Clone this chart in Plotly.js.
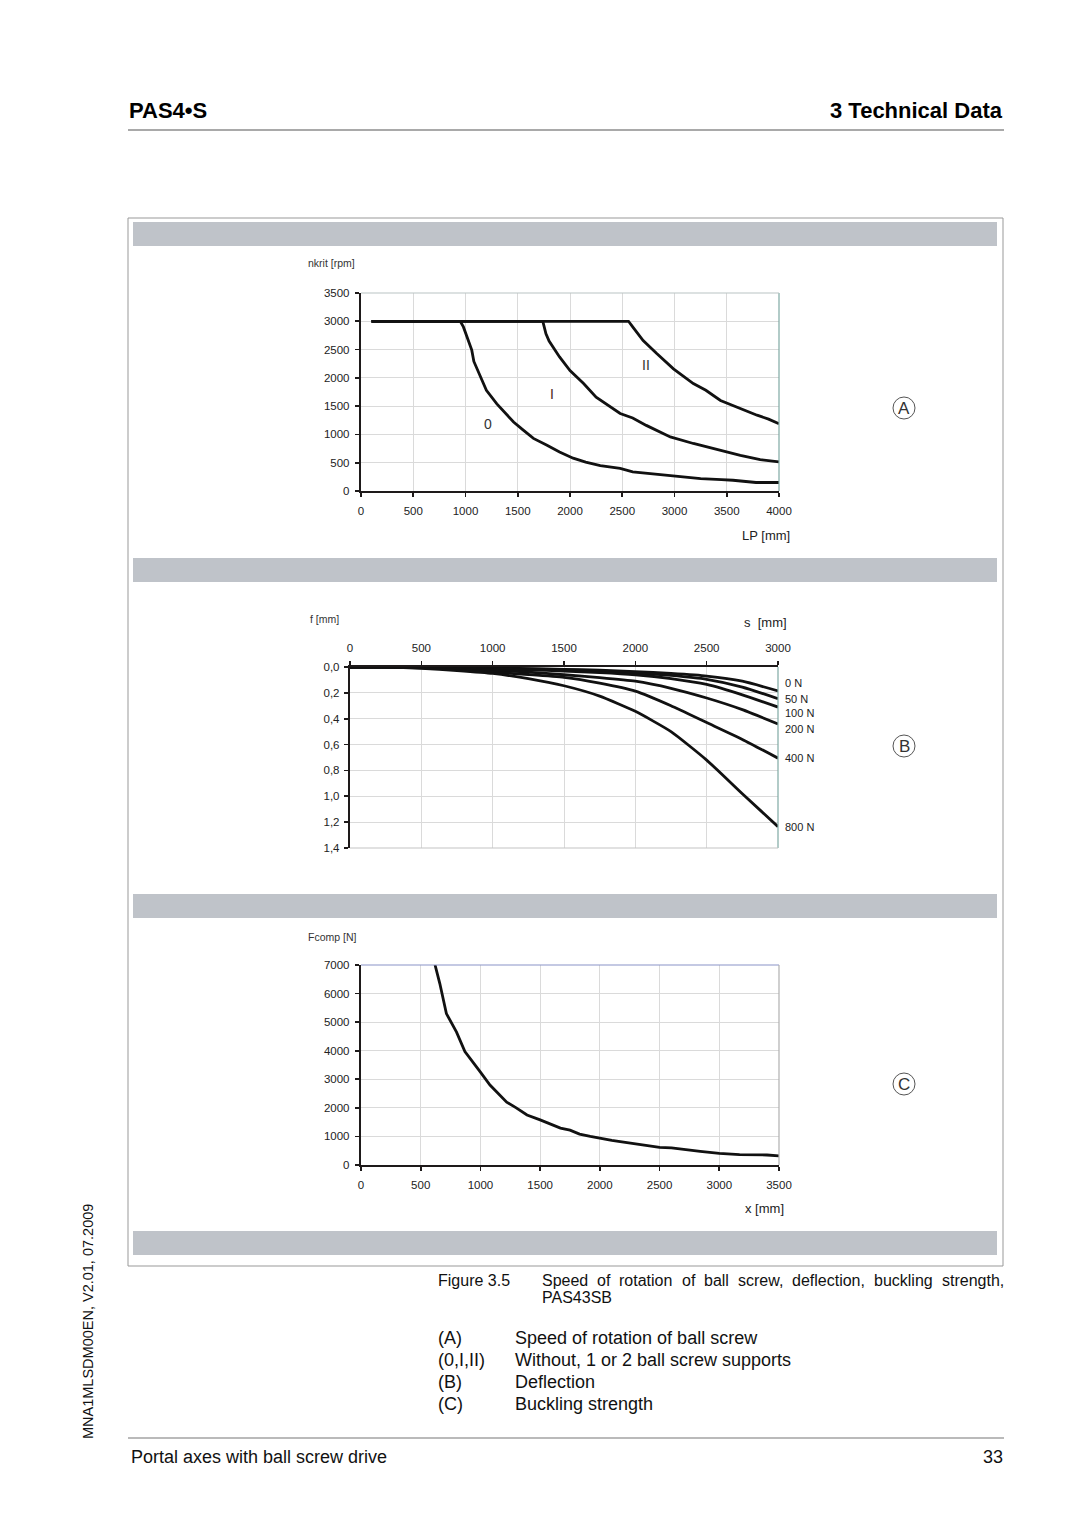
<!DOCTYPE html>
<html><head><meta charset="utf-8">
<script src="https://cdn.plot.ly/plotly-3.0.1.min.js"></script>
<style>html,body{margin:0;padding:0;background:#fff;}#chart{width:1080px;height:1528px;}</style>
</head><body><div id="chart"></div>
<script>
// ---------------- DATA ----------------
// (A) critical speed of ball screw, nkrit [rpm] vs LP [mm]
const lpTicks = [0, 500, 1000, 1500, 2000, 2500, 3000, 3500, 4000];
const nTicks = [0, 500, 1000, 1500, 2000, 2500, 3000, 3500];
const curve0X = [100, 950, 980, 1020, 1060, 1080, 1140, 1200, 1300, 1400, 1460, 1550, 1650, 1780, 1900, 2030, 2150, 2290, 2480, 2600, 2750, 2930, 3100, 3250, 3450, 3560, 3780, 4000];
const curve0Y = [3000, 3000, 2900, 2700, 2490, 2290, 2050, 1780, 1540, 1330, 1220, 1080, 930, 810, 690, 580, 510, 450, 400, 340, 310, 280, 250, 220, 200, 190, 150, 150];
const curve1X = [100, 1740, 1770, 1800, 1900, 2000, 2130, 2250, 2480, 2600, 2730, 2850, 2960, 3180, 3430, 3630, 3820, 4000];
const curve1Y = [3000, 3000, 2780, 2650, 2370, 2130, 1900, 1660, 1370, 1290, 1160, 1060, 955, 840, 720, 630, 555, 515];
const curve2X = [100, 2560, 2600, 2700, 2830, 2990, 3180, 3300, 3440, 3560, 3680, 3790, 3900, 4000];
const curve2Y = [3000, 3000, 2900, 2660, 2430, 2160, 1900, 1780, 1600, 1510, 1420, 1340, 1270, 1190];
const supportLabels = ['0', 'I', 'II'];

// (B) deflection f [mm] vs s [mm] for loads
const sTicks = [0, 500, 1000, 1500, 2000, 2500, 3000];
const fTickVals = [0, 0.2, 0.4, 0.6, 0.8, 1.0, 1.2, 1.4];
const fTickText = ['0,0', '0,2', '0,4', '0,6', '0,8', '1,0', '1,2', '1,4'];
const deflS = [0, 250, 500, 750, 1000, 1250, 1500, 1750, 2000, 2250, 2500, 2750, 3000];
const defl0N   = [0, 0, 0.002, 0.005, 0.008, 0.012, 0.018, 0.025, 0.035, 0.05, 0.07, 0.11, 0.185];
const defl50N  = [0, 0, 0.002, 0.006, 0.010, 0.015, 0.022, 0.030, 0.045, 0.065, 0.095, 0.155, 0.245];
const defl100N = [0, 0, 0.003, 0.008, 0.015, 0.022, 0.032, 0.043, 0.060, 0.090, 0.135, 0.215, 0.31];
const defl200N = [0, 0, 0.004, 0.012, 0.025, 0.040, 0.060, 0.082, 0.110, 0.165, 0.240, 0.330, 0.44];
const defl400N = [0, 0, 0.006, 0.018, 0.040, 0.058, 0.080, 0.125, 0.187, 0.300, 0.430, 0.560, 0.705];
const defl800N = [0, 0, 0.010, 0.028, 0.050, 0.090, 0.145, 0.225, 0.343, 0.500, 0.720, 0.980, 1.235];
const loadNames = ['0 N', '50 N', '100 N', '200 N', '400 N', '800 N'];

// (C) buckling strength Fcomp [N] vs x [mm]
const xTicksC = [0, 500, 1000, 1500, 2000, 2500, 3000, 3500];
const fcompTicks = [0, 1000, 2000, 3000, 4000, 5000, 6000, 7000];
const buckX = [620, 660, 715, 760, 800, 870, 940, 1000, 1080, 1150, 1220, 1300, 1390, 1500, 1580, 1670, 1750, 1830, 1920, 2000, 2100, 2170, 2300, 2400, 2500, 2600, 2700, 2840, 3000, 3170, 3400, 3500];
const buckY = [7000, 6350, 5300, 4950, 4650, 3970, 3560, 3250, 2800, 2500, 2200, 2000, 1750, 1580, 1450, 1290, 1220, 1080, 1000, 930, 860, 820, 740, 700, 620, 600, 540, 480, 410, 360, 350, 320];

// ---------------- LAYOUT HELPERS ----------------
const W = 1080, H = 1528;
const px = v => v / W;
const py = v => 1 - v / H;
const FONT = 'Liberation Sans, Arial, Helvetica, sans-serif';
const tickFont = {family: FONT, size: 11.5, color: '#222'};
const AX = '#1e1a1a';

function axisBase(extra) {
  return Object.assign({
    showline: true, linecolor: AX, linewidth: 2.2,
    ticks: 'outside', ticklen: 4, tickwidth: 1.6, tickcolor: AX,
    showgrid: true, gridcolor: '#dadada', gridwidth: 1,
    zeroline: false, tickfont: tickFont, fixedrange: true
  }, extra);
}

const lineStyle = {color: '#111', width: 2.8};
const traces = [];
[[curve0X, curve0Y], [curve1X, curve1Y], [curve2X, curve2Y]].forEach(c => {
  traces.push({x: c[0], y: c[1], xaxis: 'x', yaxis: 'y', mode: 'lines', line: lineStyle, hoverinfo: 'skip'});
});
[defl0N, defl50N, defl100N, defl200N, defl400N, defl800N].forEach(d => {
  traces.push({x: deflS, y: d, xaxis: 'x2', yaxis: 'y2', mode: 'lines', line: {color: '#111', width: 2.8, shape: 'spline', smoothing: 0.5}, hoverinfo: 'skip'});
});
traces.push({x: buckX, y: buckY, xaxis: 'x3', yaxis: 'y3', mode: 'lines', line: lineStyle, hoverinfo: 'skip'});

const ann = [];
function txt(x, y, text, size, opt) {
  ann.push(Object.assign({
    xref: 'paper', yref: 'paper', x: px(x), y: py(y), text: text, showarrow: false,
    xanchor: 'left', yanchor: 'middle', borderpad: 0,
    font: {family: FONT, size: size, color: '#111'}
  }, opt || {}));
}

// header / footer
txt(128, 110, '<b>PAS4•S</b>', 22, {font: {family: FONT, size: 22, color: '#000'}});
txt(1004, 110, '<b>3 Technical Data</b>', 22, {xanchor: 'right', font: {family: FONT, size: 22, color: '#000'}});
txt(130, 1457, 'Portal axes with ball screw drive', 18);
txt(1004, 1457, '33', 18, {xanchor: 'right'});
txt(88, 1322, 'MNA1MLSDM00EN, V2.01, 07.2009', 14.5, {xanchor: 'center', textangle: -90});

// caption (justified line)
txt(437, 1280, 'Figure 3.5', 16);
(function () {
  const words = 'Speed of rotation of ball screw, deflection, buckling strength,'.split(' ');
  const ctx = document.createElement('canvas').getContext('2d');
  ctx.font = '16px "Liberation Sans"';
  const ws = words.map(w => ctx.measureText(w).width);
  const sum = ws.reduce((a, b) => a + b, 0);
  const left = 541, right = 1003;
  const gap = (right - left - sum) / (words.length - 1);
  let x = left;
  words.forEach((w, i) => { txt(x, 1280, w, 16); x += ws[i] + gap; });
})();
txt(541, 1297, 'PAS43SB', 16);
const legendRows = [['(A)', 'Speed of rotation of ball screw'], ['(0,I,II)', 'Without, 1 or 2 ball screw supports'], ['(B)', 'Deflection'], ['(C)', 'Buckling strength']];
legendRows.forEach((r, i) => {
  txt(437, 1338 + i * 22, r[0], 18);
  txt(514, 1338 + i * 22, r[1], 18);
});

// chart titles
txt(307, 263, 'nkrit [rpm]', 10.5, {font: {family: FONT, size: 10.5, color: '#333'}});
txt(741, 535, 'LP [mm]', 13, {font: {family: FONT, size: 13, color: '#222'}});
txt(309, 619, 'f [mm]', 10.5, {font: {family: FONT, size: 10.5, color: '#333'}});
txt(743, 622, 's  [mm]', 13, {font: {family: FONT, size: 13, color: '#222'}});
txt(307, 937, 'Fcomp [N]', 10.5, {font: {family: FONT, size: 10.5, color: '#333'}});
txt(744, 1208, 'x [mm]', 13, {font: {family: FONT, size: 13, color: '#222'}});

// curve labels A
const supPos = [[1219, 1190], [1825, 1720], [2724, 2221]];
supportLabels.forEach((t, i) => {
  ann.push({xref: 'x', yref: 'y', x: supPos[i][0], y: supPos[i][1], text: t, showarrow: false,
    xanchor: 'center', yanchor: 'middle', font: {family: FONT, size: 14, color: i === 1 ? '#4a2222' : '#333'}});
});
// load labels B
const loadLabelY = [683, 699, 713, 729, 758, 827];
loadNames.forEach((t, i) => txt(784, loadLabelY[i], t, 11, {font: {family: FONT, size: 11, color: '#222'}}));

// circled letters
const circ = [['A', 408], ['B', 746], ['C', 1084]];
const shapes = [];
circ.forEach(c => {
  shapes.push({type: 'circle', xref: 'paper', yref: 'paper', x0: px(893), x1: px(915), y0: py(c[1] + 11), y1: py(c[1] - 11), line: {color: '#555', width: 1}});
  txt(904, c[1] + 0.5, c[0], 17, {xanchor: 'center', font: {family: FONT, size: 17, color: '#333'}});
});

// page furniture
shapes.push({type: 'line', xref: 'paper', yref: 'paper', x0: px(128), x1: px(1004), y0: py(130), y1: py(130), line: {color: '#555', width: 1.2}});
shapes.push({type: 'line', xref: 'paper', yref: 'paper', x0: px(128), x1: px(1004), y0: py(1438), y1: py(1438), line: {color: '#777', width: 1.2}});
shapes.push({type: 'rect', xref: 'paper', yref: 'paper', x0: px(128), x1: px(1003), y0: py(1266), y1: py(218), line: {color: '#999', width: 1}, layer: 'below'});
[[222, 246], [558, 582], [894, 918], [1231, 1255]].forEach(b => {
  shapes.push({type: 'rect', xref: 'paper', yref: 'paper', x0: px(133), x1: px(997), y0: py(b[1]), y1: py(b[0]), line: {width: 0}, fillcolor: '#bfc3c9', layer: 'below'});
});

// plot borders (thin lines on the open sides of each plot)
function border(xr, yr, x0, x1, y0, y1, color) {
  shapes.push({type: 'line', xref: xr, yref: yr, x0: x0, x1: x1, y0: y0, y1: y1, line: {color: color, width: 1.2}});
}
border('x domain', 'y domain', 1, 1, 0, 1, '#7fa9a3');
border('x domain', 'y domain', 0, 1, 1, 1, '#b9c4c4');
border('x2 domain', 'y2 domain', 1, 1, 0, 1, '#7fa9a3');
border('x2 domain', 'y2 domain', 0, 1, 0, 0, '#c4c4c4');
border('x3 domain', 'y3 domain', 0, 1, 1, 1, '#8a94c8');
border('x3 domain', 'y3 domain', 1, 1, 0, 1, '#b0b0b0');

const layout = {
  width: W, height: H,
  margin: {l: 0, r: 0, t: 0, b: 0},
  paper_bgcolor: '#ffffff', plot_bgcolor: '#ffffff',
  showlegend: false,
  xaxis: axisBase({domain: [px(361), px(779)], anchor: 'y', range: [0, 4000], tickvals: lpTicks, ticklabelstandoff: 4}),
  yaxis: axisBase({domain: [py(491), py(293)], anchor: 'x', range: [0, 3500], tickvals: nTicks, ticklabelstandoff: 3}),
  xaxis2: axisBase({domain: [px(350), px(778)], anchor: 'y2', side: 'top', range: [0, 3000], tickvals: sTicks, ticklabelstandoff: 4}),
  yaxis2: axisBase({domain: [py(848), py(667)], anchor: 'x2', range: [1.4, 0], tickvals: fTickVals, ticktext: fTickText, ticklabelstandoff: 2}),
  xaxis3: axisBase({domain: [px(361), px(779)], anchor: 'y3', range: [0, 3500], tickvals: xTicksC, ticklabelstandoff: 4}),
  yaxis3: axisBase({domain: [py(1165), py(965)], anchor: 'x3', range: [0, 7000], tickvals: fcompTicks, ticklabelstandoff: 3}),
  shapes: shapes,
  annotations: ann
};

Plotly.newPlot('chart', traces, layout, {staticPlot: true, displayModeBar: false});
</script>
</body></html>
